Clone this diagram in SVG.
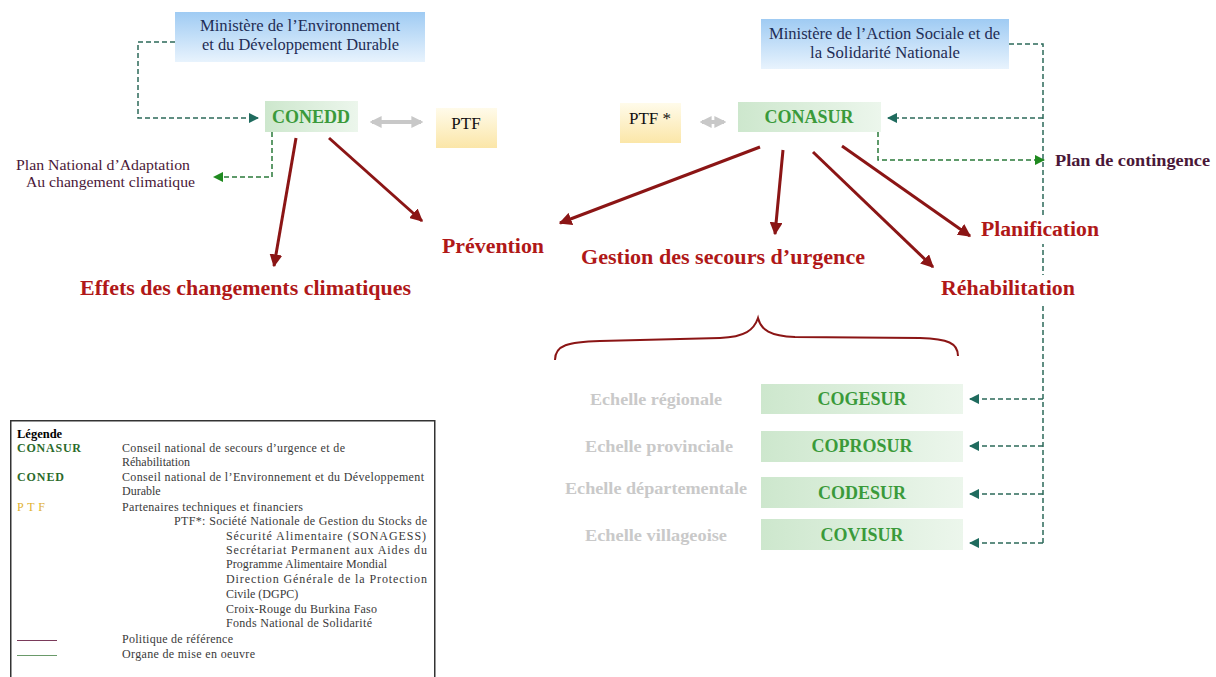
<svg xmlns="http://www.w3.org/2000/svg" width="1216" height="677" viewBox="0 0 1216 677" font-family="'Liberation Serif','Times New Roman',serif">
<defs>
<linearGradient id="gBlue" x1="0" y1="0" x2="0" y2="1"><stop offset="0" stop-color="#9fcbf3"/><stop offset="1" stop-color="#e8f3fd"/></linearGradient>
<linearGradient id="gYel" x1="0" y1="0" x2="0" y2="1"><stop offset="0" stop-color="#fffbea"/><stop offset="1" stop-color="#fbe6a8"/></linearGradient>
<linearGradient id="gGreen" x1="0" y1="0" x2="1" y2="0"><stop offset="0" stop-color="#cde7cd"/><stop offset="1" stop-color="#ecf6ec"/></linearGradient>
<marker id="aRed" viewBox="0 0 10 10" refX="9" refY="5" markerWidth="4.3" markerHeight="4.3" orient="auto" markerUnits="strokeWidth"><path d="M0,0 L10,5 L0,10 z" fill="#8b1515"/></marker>
<marker id="aTeal" viewBox="0 0 10 10" refX="9" refY="5" markerWidth="7" markerHeight="7" orient="auto" markerUnits="strokeWidth"><path d="M0,0 L10,5 L0,10 z" fill="#1f6b5e"/></marker>
<marker id="aGreen" viewBox="0 0 10 10" refX="9" refY="5" markerWidth="7" markerHeight="7" orient="auto" markerUnits="strokeWidth"><path d="M0,0 L10,5 L0,10 z" fill="#1f8a1f"/></marker>
<marker id="aGray" viewBox="0 0 10 10" refX="8" refY="5" markerWidth="3" markerHeight="3" orient="auto-start-reverse" markerUnits="strokeWidth"><path d="M0,0 L10,5 L0,10 z" fill="#c8c8c8"/></marker>
</defs>
<style>
text{font-family:"Liberation Serif","Times New Roman",serif}
.min{font-size:16px;fill:#1f2d55}
.org{font-size:18px;font-weight:bold;fill:#3a9a3a;text-anchor:middle}
.ptf{font-size:17px;fill:#111;text-anchor:middle}
.red{font-weight:bold;fill:#b01818}
.ech{font-size:16px;font-weight:bold;fill:#c9c9c9}
.plan{font-size:14px;fill:#4a1838}
.leg{font-size:12px;fill:#3a3a3a}
.rl{stroke:#8b1515;stroke-width:3;fill:none;marker-end:url(#aRed)}
.dt{stroke:#2d6a5a;stroke-width:1.5;stroke-dasharray:5 3;fill:none}
.dg{stroke:#2a7a3a;stroke-width:1.5;stroke-dasharray:5 3;fill:none}
.gr{stroke:#c8c8c8;stroke-width:4;fill:none;marker-start:url(#aGray);marker-end:url(#aGray)}
</style>

<g id="connectors">
<path class="dt" d="M175,42 H138 V118 H258" marker-end="url(#aTeal)"/>
<path class="dg" d="M272,132 V177 H214" marker-end="url(#aGreen)"/>
<path class="dt" d="M1009,44 H1043 V543"/>
<path class="dt" d="M1043,118 H888" marker-end="url(#aTeal)"/>
<path class="dg" d="M878,132 V160 H1044" marker-end="url(#aGreen)"/>
<path class="dt" d="M1043,399 H970" marker-end="url(#aTeal)"/>
<path class="dt" d="M1043,446 H970" marker-end="url(#aTeal)"/>
<path class="dt" d="M1043,494 H970" marker-end="url(#aTeal)"/>
<path class="dt" d="M1043,543 H970" marker-end="url(#aTeal)"/>
<path class="gr" d="M372,122 H421"/>
<path class="gr" d="M702,122 H724"/>
<path class="rl" d="M296,138 L274,266"/>
<path class="rl" d="M329,138 L422,221"/>
<path class="rl" d="M760,147 L560,223"/>
<path class="rl" d="M783,150 L775,234"/>
<path class="rl" d="M813,152 L933,267"/>
<path class="rl" d="M842,146 L970,236"/>
<path d="M555,360 C555,345 568,342 600,341 L720,338 C745,337 754,330 758,318 C761,330 770,336 795,337 L920,338 C948,339 958,343 958,356" fill="none" stroke="#8b1515" stroke-width="2"/>
</g>

<g id="min-env"><rect x="175" y="12" width="250" height="50" fill="url(#gBlue)"/>
<text class="min" x="200" y="31" textLength="200" lengthAdjust="spacingAndGlyphs">Ministère de l’Environnement</text>
<text class="min" x="202" y="50" textLength="197" lengthAdjust="spacingAndGlyphs">et du Développement Durable</text></g>

<g id="min-as"><rect x="761" y="19" width="248" height="50" fill="url(#gBlue)"/>
<text class="min" x="769" y="39" textLength="231" lengthAdjust="spacingAndGlyphs">Ministère de l’Action Sociale et de</text>
<text class="min" x="810" y="58" textLength="150" lengthAdjust="spacingAndGlyphs">la Solidarité Nationale</text></g>

<g id="conedd"><rect x="265" y="101" width="93" height="31" fill="url(#gGreen)"/>
<text class="org" x="311" y="123">CONEDD</text></g>

<g id="ptf"><rect x="436" y="108" width="61" height="40" fill="url(#gYel)"/>
<text class="ptf" x="466" y="129">PTF</text></g>

<g id="ptf-star"><rect x="620" y="103" width="61" height="40" fill="url(#gYel)"/>
<text class="ptf" x="650" y="124">PTF *</text></g>

<g id="conasur"><rect x="738" y="102" width="143" height="30" fill="url(#gGreen)"/>
<text class="org" x="809" y="123">CONASUR</text></g>

<g id="plan-national">
<text class="plan" x="16" y="170" textLength="174" lengthAdjust="spacingAndGlyphs">Plan National d’Adaptation</text>
<text class="plan" x="26" y="187" textLength="169" lengthAdjust="spacingAndGlyphs">Au changement climatique</text></g>

<g id="plan-contingence"><text x="1055" y="166" font-size="16" font-weight="bold" fill="#4a1838" textLength="155" lengthAdjust="spacingAndGlyphs">Plan de contingence</text></g>

<g id="effets"><text class="red" x="80" y="295" font-size="21" textLength="331" lengthAdjust="spacingAndGlyphs">Effets des changements climatiques</text></g>
<g id="prevention"><text class="red" x="442" y="253" font-size="20" textLength="102" lengthAdjust="spacingAndGlyphs">Prévention</text></g>
<g id="gestion"><text class="red" x="581" y="264" font-size="20" textLength="284" lengthAdjust="spacingAndGlyphs">Gestion des secours d’urgence</text></g>
<g id="planification"><rect x="976" y="217" width="134" height="27" fill="#fff"/>
<text class="red" x="981" y="236" font-size="20" textLength="118" lengthAdjust="spacingAndGlyphs">Planification</text></g>
<g id="rehabilitation"><rect x="936" y="275" width="148" height="28" fill="#fff"/>
<text class="red" x="941" y="295" font-size="20" textLength="134" lengthAdjust="spacingAndGlyphs">Réhabilitation</text></g>

<g id="cogesur"><text class="ech" x="590" y="405" textLength="132" lengthAdjust="spacingAndGlyphs">Echelle régionale</text>
<rect x="761" y="384" width="202" height="30" fill="url(#gGreen)"/><text class="org" x="862" y="405" font-size="17">COGESUR</text></g>
<g id="coprosur"><text class="ech" x="585" y="452" textLength="148" lengthAdjust="spacingAndGlyphs">Echelle provinciale</text>
<rect x="761" y="431" width="202" height="31" fill="url(#gGreen)"/><text class="org" x="862" y="452" font-size="17">COPROSUR</text></g>
<g id="codesur"><text class="ech" x="565" y="494" textLength="182" lengthAdjust="spacingAndGlyphs">Echelle départementale</text>
<rect x="761" y="477" width="202" height="31" fill="url(#gGreen)"/><text class="org" x="862" y="499" font-size="17">CODESUR</text></g>
<g id="covisur"><text class="ech" x="585" y="541" textLength="142" lengthAdjust="spacingAndGlyphs">Echelle villageoise</text>
<rect x="761" y="519" width="202" height="31" fill="url(#gGreen)"/><text class="org" x="862" y="541" font-size="17">COVISUR</text></g>

<g id="legend">
<rect x="10.75" y="420.75" width="424" height="270" fill="#fff" stroke="#333" stroke-width="1.5"/>
<text x="17" y="438" font-size="12.5" font-weight="bold" fill="#000">Légende</text>
<text class="leg" x="17" y="452" font-weight="bold" style="fill:#2a6a2a" textLength="64" lengthAdjust="spacing">CONASUR</text>
<text class="leg" x="122" y="452" textLength="223" lengthAdjust="spacing">Conseil national de secours d’urgence et de</text>
<text class="leg" x="122" y="466">Réhabilitation</text>
<text class="leg" x="17" y="481" font-weight="bold" style="fill:#2a6a2a" textLength="47" lengthAdjust="spacing">CONED</text>
<text class="leg" x="122" y="481" textLength="302" lengthAdjust="spacing">Conseil national de l’Environnement et du Développement</text>
<text class="leg" x="122" y="495">Durable</text>
<text class="leg" x="17" y="511" style="fill:#e0b030" textLength="28" lengthAdjust="spacing">PTF</text>
<text class="leg" x="122" y="511" textLength="181" lengthAdjust="spacing">Partenaires techniques et financiers</text>
<text class="leg" x="174" y="525" textLength="253" lengthAdjust="spacing">PTF*: Société Nationale de Gestion du Stocks de</text>
<text class="leg" x="226" y="540" textLength="200" lengthAdjust="spacing">Sécurité  Alimentaire (SONAGESS)</text>
<text class="leg" x="226" y="554" textLength="201" lengthAdjust="spacing">Secrétariat Permanent aux Aides du</text>
<text class="leg" x="226" y="568" textLength="161" lengthAdjust="spacing">Programme Alimentaire Mondial</text>
<text class="leg" x="226" y="583" textLength="201" lengthAdjust="spacing">Direction Générale de la Protection</text>
<text class="leg" x="226" y="598">Civile (DGPC)</text>
<text class="leg" x="226" y="613" textLength="151" lengthAdjust="spacing">Croix-Rouge du Burkina Faso</text>
<text class="leg" x="226" y="627" textLength="146" lengthAdjust="spacing">Fonds National de Solidarité</text>
<line x1="17" y1="640.5" x2="57" y2="640.5" stroke="#7a3a5a" stroke-width="1"/>
<text class="leg" x="122" y="643" textLength="111" lengthAdjust="spacing">Politique de référence</text>
<line x1="17" y1="655.5" x2="57" y2="655.5" stroke="#6a9a6a" stroke-width="1"/>
<text class="leg" x="122" y="658" textLength="133" lengthAdjust="spacing">Organe de mise en oeuvre</text>
</g>
</svg>
